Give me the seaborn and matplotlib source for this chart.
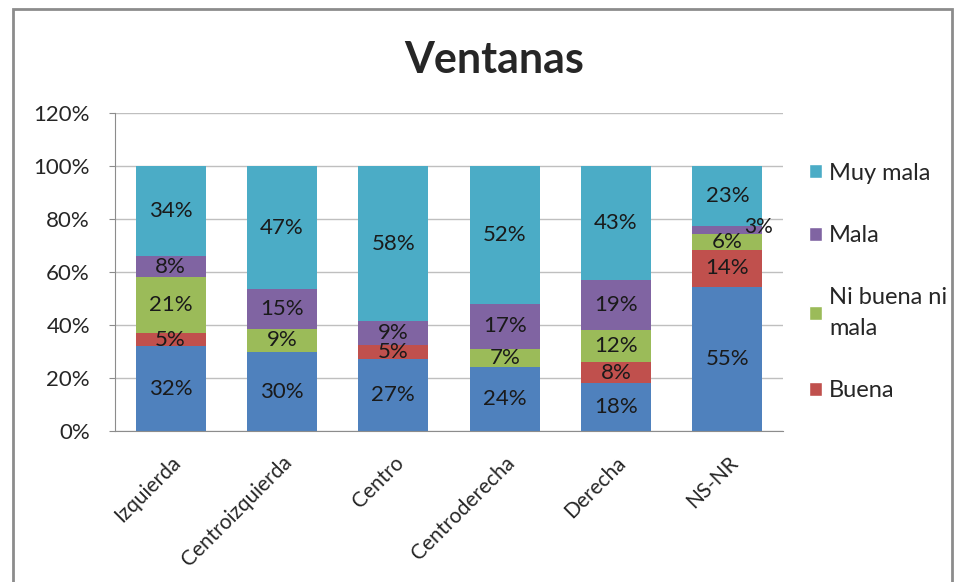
import numpy as np
import pandas as pd
import seaborn as sns
import matplotlib.pyplot as plt
from matplotlib.patches import Rectangle, Patch

# --- data ---
categorias = ["Izquierda", "Centroizquierda", "Centro", "Centroderecha", "Derecha", "NS-NR"]
muy_buena = [32, 30, 27, 24, 18, 55]
buena = [5, 0, 5, 0, 8, 14]
ni_buena_ni_mala = [21, 9, 0, 7, 12, 6]
mala = [8, 15, 9, 17, 19, 3]
muy_mala = [34, 47, 58, 52, 43, 23]

series_names = ["Muy buena", "Buena", "Ni buena ni mala", "Mala", "Muy mala"]
legend_order = ["Muy mala", "Mala", "Ni buena ni mala", "Buena"]
legend_labels = {"Buena": "Buena", "Ni buena ni mala": "Ni buena ni\nmala",
                 "Mala": "Mala", "Muy mala": "Muy mala"}
colores = {"Muy buena": "#4F81BD", "Buena": "#C0504D", "Ni buena ni mala": "#9BBB59",
           "Mala": "#8064A2", "Muy mala": "#4BACC6"}

sns.set_style("white")
plt.rcParams["font.family"] = ["Lato", "DejaVu Sans"]

df = pd.DataFrame({"cat": categorias, "Muy buena": muy_buena, "Buena": buena,
                   "Ni buena ni mala": ni_buena_ni_mala, "Mala": mala, "Muy mala": muy_mala})
# grafico 100% apilado: normalizar por el total de cada fila
totales = df[series_names].sum(axis=1)
frac = df[series_names].div(totales, axis=0)
cum = frac.cumsum(axis=1)

fig = plt.figure(figsize=(9.55, 5.82), dpi=100)
ax = fig.add_axes([0.1204, 0.2595, 0.6996, 0.5463])
ax.set_axisbelow(True)

# dibujar de arriba hacia abajo (acumulado)
for name in reversed(series_names):
    sns.barplot(x=df["cat"], y=cum[name], color=colores[name], width=0.63,
                saturation=1, linewidth=0, ax=ax, zorder=2)

# etiquetas de porcentaje
for i in range(len(categorias)):
    base = 0.0
    for name in series_names:
        v = frac.loc[i, name]
        raw = df.loc[i, name]
        if raw > 0:
            small = raw < 4
            dx = 0.28 if small else 0.0
            dy = 0.012 if small else 0.0
            ax.text(i + dx, base + v / 2 + dy, f"{raw}%", ha="center", va="center",
                    fontsize=15 if small else 16, color="#1a1a1a", zorder=3)
        base += v

ax.set_ylim(0, 1.2)
ax.set_xlim(-0.5, len(categorias) - 0.5)
ax.set_yticks(np.arange(0, 1.21, 0.2))
ax.set_yticklabels([f"{int(t)}%" for t in np.arange(0, 121, 20)], fontsize=16)
ax.set_xlabel("")
ax.set_ylabel("")
ax.yaxis.grid(True, color="#BFBFBF", linewidth=1)
for s in ["top", "right"]:
    ax.spines[s].set_visible(False)
for s in ["left", "bottom"]:
    ax.spines[s].set_color("#8C8C8C")
ax.tick_params(axis="y", left=True, length=4, color="#8C8C8C", pad=14)
ax.tick_params(axis="x", bottom=False, pad=12)
plt.setp(ax.get_xticklabels(), rotation=45, ha="right", rotation_mode="anchor", fontsize=15)

fig.text(494 / 955, 1 - 60 / 582, "Ventanas", fontsize=31, fontweight="bold",
         ha="center", va="center")

handles = [Patch(facecolor=colores[n]) for n in legend_order]
labels = [legend_labels[n] for n in legend_order]
leg = fig.legend(handles, labels, loc="upper left", bbox_to_anchor=(0.825, 0.757), frameon=False,
                 fontsize=17, handlelength=0.55, handleheight=0.55, handletextpad=0.3,
                 labelspacing=1.75)
leg.get_texts()[2].set_linespacing(1.55)

fig.patches.append(Rectangle((13 / 955, -0.01), 939 / 955, 1 - 9 / 582 + 0.01, transform=fig.transFigure,
                             fill=False, edgecolor="#8C8C8C", linewidth=2))

plt.savefig("out.png", dpi=100)
